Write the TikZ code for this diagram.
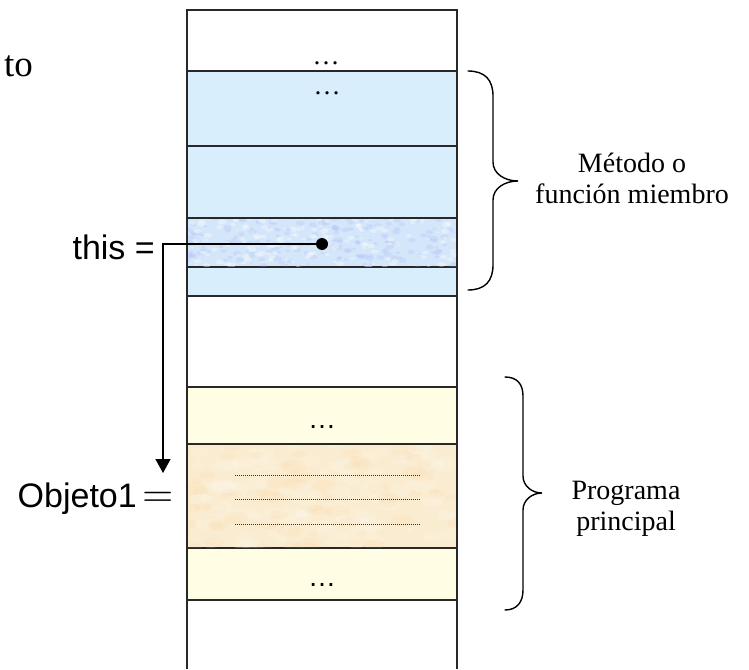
\documentclass[tikz,border=0pt]{standalone}
\usepackage{fontspec}
\setmainfont{Liberation Serif}
\newfontfamily\arialfont{Liberation Sans}
\usetikzlibrary{arrows.meta}

\definecolor{memblue}{RGB}{216,238,252}
\definecolor{memblueT}{RGB}{212,230,249}
\definecolor{memyellow}{RGB}{255,253,227}
\definecolor{memtan}{RGB}{250,236,208}
\definecolor{rulecol}{RGB}{40,40,40}

\begin{document}
\begin{tikzpicture}[x=1pt,y=-1pt,
  cell/.style={draw=rulecol, line width=1.3pt, minimum width=270pt,
    inner sep=0pt, outer sep=0pt, anchor=north west},
  ellip/.style={inner sep=0pt, anchor=base},
  lbl/.style={inner sep=0pt, anchor=base east,
    font=\arialfont\fontsize{34}{38}\selectfont},
  bracelbl/.style={align=center, inner sep=0pt,
    font=\fontsize{28}{31}\selectfont},
  brace/.style={draw=black, line width=1.4pt, line cap=round},
  dotrule/.style={draw=black!80, line width=0.8pt, dash pattern=on 0.9pt off 1.1pt},
  pointer/.style={draw=black, line width=1.3pt,
    -{Triangle[length=14pt,width=15pt]}}
]
\useasboundingbox (0,0) rectangle (749,669);

% stack column outline (open at the bottom)
\draw[rulecol, line width=1.3pt] (187,669) -- (187,10) -- (457,10) -- (457,669);

% activation record of the member function
\node[cell, fill=memblue,  minimum height=75pt] (b1) at (187,71)  {};
\node[cell, fill=memblue,  minimum height=72pt] (b2) at (187,146) {};
\node[cell, fill=memblueT, minimum height=49pt] (b3) at (187,218) {};
\node[cell, fill=memblue,  minimum height=29pt] (b4) at (187,267) {};

% main program frame
\node[cell, fill=memyellow, minimum height=57pt]  (y1) at (187,387) {};
\node[cell, fill=memtan,    minimum height=104pt] (y2) at (187,444) {};
\node[cell, fill=memyellow, minimum height=52pt]  (y3) at (187,548) {};

% soft mottled texture on the pointer slot
\begin{scope}
  \clip ([shift={(1,1)}]b3.north west) rectangle ([shift={(-1,-1)}]b3.south east);
  \pgfmathsetseed{11}
  \foreach \i in {1,...,220} {
    \pgfmathsetmacro\xx{187+270*rnd}
    \pgfmathsetmacro\yy{218+49*rnd}
    \pgfmathsetmacro\rr{1.5+3*rnd}
    \fill[blue!25!memblueT, opacity=0.18] (\xx,\yy) ellipse ({\rr pt} and {0.6*\rr pt});
  }
  \foreach \i in {1,...,160} {
    \pgfmathsetmacro\xx{187+270*rnd}
    \pgfmathsetmacro\yy{218+49*rnd}
    \pgfmathsetmacro\rr{1.5+3*rnd}
    \fill[white, opacity=0.35] (\xx,\yy) ellipse ({\rr pt} and {0.6*\rr pt});
  }
\end{scope}

% parchment texture on the object slot
\begin{scope}
  \clip ([shift={(1,1)}]y2.north west) rectangle ([shift={(-1,-1)}]y2.south east);
  \pgfmathsetseed{5}
  \foreach \i in {1,...,120} {
    \pgfmathsetmacro\xx{187+270*rnd}
    \pgfmathsetmacro\yy{444+104*rnd}
    \pgfmathsetmacro\rr{4+10*rnd}
    \fill[white, opacity=0.12] (\xx,\yy) ellipse ({\rr pt} and {0.5*\rr pt});
  }
  \foreach \i in {1,...,70} {
    \pgfmathsetmacro\xx{187+270*rnd}
    \pgfmathsetmacro\yy{444+104*rnd}
    \pgfmathsetmacro\rr{4+9*rnd}
    \fill[orange!30!memtan, opacity=0.10] (\xx,\yy) ellipse ({\rr pt} and {0.5*\rr pt});
  }
\end{scope}

% ellipses
\node[ellip, font=\fontsize{27}{30}\selectfont] (e0) at (326,65) {…};
\node[ellip, font=\fontsize{27}{30}\selectfont] (e1) at (327,94) {…};
\node[ellip, font=\arialfont\fontsize{28}{30}\selectfont] (e2) at (322,428) {…};
\node[ellip, font=\arialfont\fontsize{28}{30}\selectfont] (e3) at (322,586) {…};

% object members
\draw[dotrule] (235,475) -- (420,475);
\draw[dotrule] (235,499) -- (420,499);
\draw[dotrule] (235,524) -- (420,524);

% left labels
\node[inner sep=0pt, anchor=base east, font=\fontsize{37}{40}\selectfont] (tolbl) at (33,76) {to};
\node[lbl] (thislbl) at (155,259) {this =};
\node[lbl] (objlbl) at (137,507) {Objeto1};
\node[inner sep=0pt, anchor=base west, scale=1.72,
  font=\fontsize{24.88}{26}\selectfont] (objeq) at (142,507) {$=$};

% this pointer
\node[circle, fill=black, minimum size=12pt, inner sep=0pt] (ptr) at (322,244) {};
\coordinate (tip) at (163,473);
\draw[pointer] (ptr.center) -| (tip);

% braces
\draw[brace] (468,71) .. controls (485,71) and (493,80) .. (493,96) -- (493,162)
  .. controls (493,174) and (505,181) .. (518,181)
  .. controls (505,181) and (493,188) .. (493,200) -- (493,265)
  .. controls (493,281) and (485,290) .. (468,290);
\draw[brace] (505,377) .. controls (517,377) and (523,384) .. (523,396) -- (523,476)
  .. controls (523,486) and (532,493) .. (542,493)
  .. controls (532,493) and (523,500) .. (523,510) -- (523,590)
  .. controls (523,602) and (517,610) .. (505,610);

\node[bracelbl] (mlbl) at (632,178) {Método o\\función miembro};
\node[bracelbl] (plbl) at (626,509) {Programa\\principal};
\end{tikzpicture}
\end{document}
